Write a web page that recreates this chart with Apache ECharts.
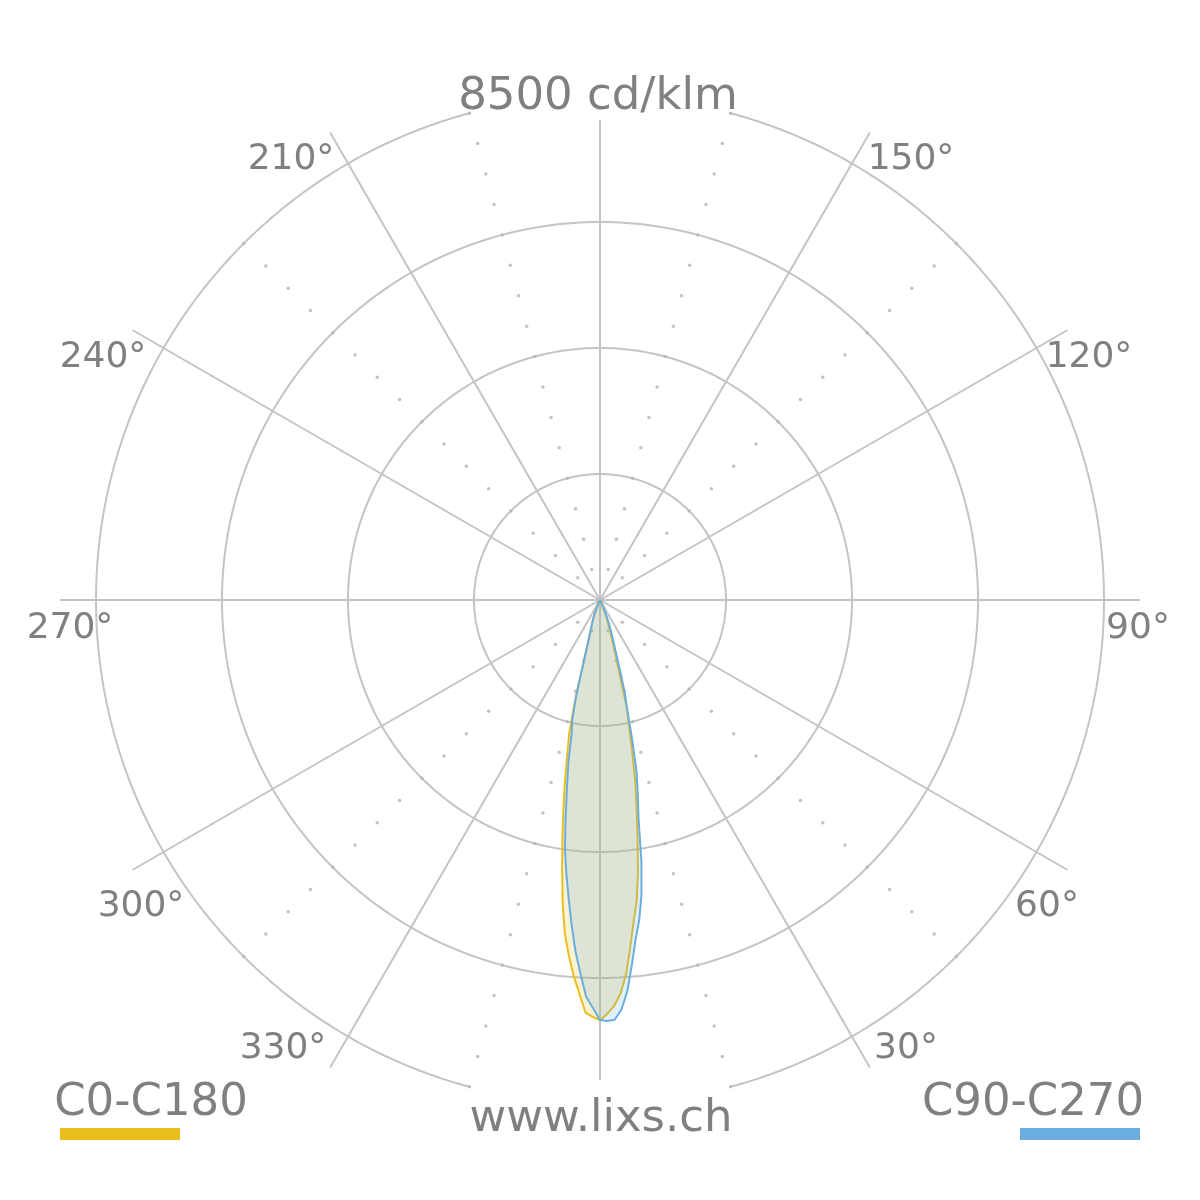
<!DOCTYPE html>
<html>
<head>
<meta charset="utf-8">
<script src="https://cdn.jsdelivr.net/npm/echarts@6/dist/echarts.min.js"></script>
<style>
html,body{margin:0;padding:0;background:#fff;}
#chart{width:1200px;height:1200px;}
</style>
</head>
<body>
<div id="chart"></div>
<script>
// ---- data (cd/klm) ----
const gamma = [0,1,2,3,4,5,6,7,8,9,10,11,12,13,14,15,16,17,18,20,22,24,26,28,30];
const c0   = [7083,6982,6847,6645,6324,5869,5447,5093,4604,4048,3542,3120,2614,2159,1855,1181,911,675,523,337,169,84,34,17,0];
const c180 = [7083,7033,6965,6645,6358,6021,5667,5161,4587,4048,3542,3086,2648,2311,1737,1012,708,573,472,354,219,118,51,17,0];
const c90  = [7083,7100,7083,6915,6611,6173,5751,5431,5026,4469,3744,3339,2968,2412,1889,1602,1181,894,725,506,320,135,67,17,0];
const c270 = [7083,6881,6695,6308,5937,5498,5060,4655,4250,3710,3204,2800,2294,2091,1653,961,675,557,455,337,202,101,51,17,0];

const maxValue = 8500;
const ringValues = [2125, 4250, 6375];
const spokeAngles = [0,30,60,90,120,150,180,210,240,270,300,330];
const dotAngles = [15,45,135,165,195,225,315,345];
const angleLabels = ['30°','60°','90°','120°','150°','210°','240°','270°','300°','330°'];
const titleText = '8500 cd/klm';
const footerText = 'www.lixs.ch';
const legendNames = ['C0-C180','C90-C270'];

// ---- styling / layout ----
const CX = 600, CY = 600;
const OUTER_PX = 504, SPOKE_PX = 540, VSPOKE_PX = 480;
const RMAX = maxValue * SPOKE_PX / OUTER_PX;
const GRID = '#c4c4c4';
const TEXT = '#808080';
const YELLOW = '#e8bf1f';
const BLUE = '#6aaee0';
const FONT = '"DejaVu Sans", Verdana, sans-serif';

function arc(r, a0, a1) {
  const pts = [];
  for (let a = a0; a <= a1; a += 1) pts.push([r, a]);
  return pts;
}
function gridLine(data, name) {
  return {
    type: 'line', name: name, coordinateSystem: 'polar', data: data,
    showSymbol: false, symbol: 'none', silent: true, z: 1,
    lineStyle: { color: GRID, width: 2 }
  };
}

const series = [];
ringValues.forEach(v => series.push(gridLine(arc(v, 0, 360), 'ring')));
series.push(gridLine(arc(maxValue, 15, 165), 'outer1'));
series.push(gridLine(arc(maxValue, 195, 345), 'outer2'));
spokeAngles.forEach(a => {
  const len = (a % 180 === 0) ? maxValue * VSPOKE_PX / OUTER_PX : RMAX;
  series.push(gridLine([[0, a], [len, a]], 'spoke'));
});
const dots = [];
dotAngles.forEach(a => { for (let k = 1; k <= 16; k++) dots.push([maxValue * k / 16, a]); });
series.push({
  type: 'scatter', coordinateSystem: 'polar', data: dots, symbol: 'circle',
  symbolSize: 3.5, silent: true, z: 2, itemStyle: { color: '#b4b4b4' }
});

function curve(left, right) {
  const pts = [];
  for (let i = gamma.length - 1; i >= 0; i--) pts.push([left[i], 360 - gamma[i]]);
  for (let i = 0; i < gamma.length; i++) pts.push([right[i], gamma[i]]);
  return pts;
}
series.push({
  type: 'line', name: legendNames[0], coordinateSystem: 'polar', data: curve(c180, c0),
  showSymbol: false, symbol: 'none', z: 3,
  lineStyle: { color: YELLOW, width: 2 },
  areaStyle: { color: YELLOW, opacity: 0.2 }
});
series.push({
  type: 'line', name: legendNames[1], coordinateSystem: 'polar', data: curve(c270, c90),
  showSymbol: false, symbol: 'none', z: 4,
  lineStyle: { color: BLUE, width: 2 },
  areaStyle: { color: BLUE, opacity: 0.2 }
});

// label positions (centres)
const labelPos = {
  '30°': [906, 1049], '60°': [1047, 907], '90°': [1138, 629], '120°': [1089, 358],
  '150°': [911, 160], '210°': [291, 160], '240°': [103, 358], '270°': [70, 629],
  '300°': [141, 907], '330°': [283, 1049]
};
function txt(text, x, y, size, align) {
  return {
    type: 'text', x: x, y: y, silent: true, z: 10,
    style: {
      text: text, font: size + 'px ' + FONT, fill: TEXT,
      align: align || 'center', textAlign: align || 'center',
      verticalAlign: 'middle', textVerticalAlign: 'middle'
    }
  };
}
const graphics = [];
angleLabels.forEach(l => graphics.push(txt(l, labelPos[l][0], labelPos[l][1], 36)));
graphics.push(txt(titleText, 598, 97, 45));
graphics.push(txt(footerText, 601, 1119, 45));
graphics.push(txt(legendNames[0], 151, 1103, 45));
graphics.push(txt(legendNames[1], 1033, 1103, 45));
graphics.push({ type: 'rect', shape: { x: 60, y: 1128, width: 120, height: 12 }, style: { fill: YELLOW }, silent: true });
graphics.push({ type: 'rect', shape: { x: 1020, y: 1128, width: 120, height: 12 }, style: { fill: BLUE }, silent: true });

const chart = echarts.init(document.getElementById('chart'), null, { renderer: 'canvas' });
chart.setOption({
  animation: false,
  backgroundColor: '#ffffff',
  polar: { center: [CX, CY], radius: SPOKE_PX },
  angleAxis: {
    type: 'value', min: 0, max: 360, startAngle: 270, clockwise: false,
    axisLine: { show: false }, axisTick: { show: false }, axisLabel: { show: false }, splitLine: { show: false }
  },
  radiusAxis: {
    type: 'value', min: 0, max: RMAX,
    axisLine: { show: false }, axisTick: { show: false }, axisLabel: { show: false }, splitLine: { show: false }
  },
  series: series,
  graphic: graphics
});
</script>
</body>
</html>
